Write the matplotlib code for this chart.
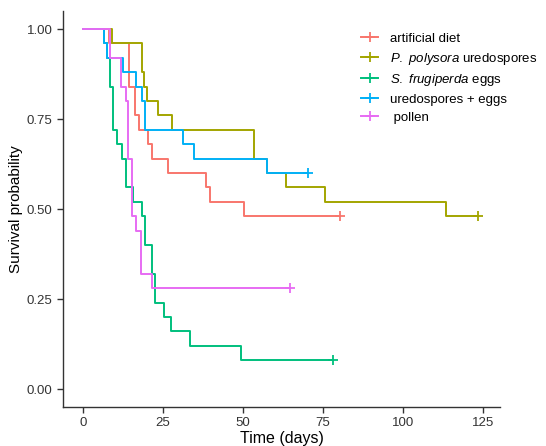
import matplotlib
matplotlib.use("Agg")
import matplotlib.pyplot as plt
from matplotlib.lines import Line2D

plt.rcParams['font.family'] = ['Liberation Sans', 'DejaVu Sans']
plt.rcParams['mathtext.fontset'] = 'custom'
plt.rcParams['mathtext.rm'] = 'Liberation Sans'
plt.rcParams['mathtext.it'] = 'Liberation Sans:italic'

# step times (days) and survival after each step; last value is censor time
diet_t = [0, 8.2, 14.5, 16.3, 17.6, 20.4, 21.7, 26.5, 38.4, 39.6, 50.4]
diet_s = [1.00, 0.96, 0.84, 0.76, 0.72, 0.68, 0.64, 0.60, 0.56, 0.52, 0.48]
diet_end = 80.3

poly_t = [0, 9.2, 18.3, 19.2, 19.9, 23.6, 27.7, 53.5, 57.5, 63.4, 75.6, 113.3]
poly_s = [1.00, 0.96, 0.88, 0.84, 0.80, 0.76, 0.72, 0.64, 0.60, 0.56, 0.52, 0.48]
poly_end = 123.2

eggs_t = [0, 6.6, 7.5, 8.5, 9.5, 10.7, 12.3, 13.5, 15.5, 18.4, 19.4, 21.7, 22.5,
          25.4, 27.5, 33.4, 49.5]
eggs_s = [1.00, 0.96, 0.92, 0.84, 0.72, 0.68, 0.64, 0.56, 0.52, 0.48, 0.40, 0.32,
          0.24, 0.20, 0.16, 0.12, 0.08]
eggs_end = 78.2

mix_t = [0, 6.6, 7.5, 12.6, 16.6, 18.3, 19.5, 31.3, 34.7, 57.5]
mix_s = [1.00, 0.96, 0.92, 0.88, 0.84, 0.80, 0.72, 0.68, 0.64, 0.60]
mix_end = 70.4

pollen_t = [0, 8.5, 11.9, 13.4, 14.2, 15.2, 16.5, 18.1, 21.7]
pollen_s = [1.00, 0.92, 0.84, 0.80, 0.64, 0.48, 0.44, 0.32, 0.28]
pollen_end = 64.5

labels = ["artificial diet",
          r"$\it{P.\ polysora}$ uredospores",
          r"$\it{S.\ frugiperda}$ eggs",
          "uredospores + eggs",
          " pollen"]
colors = ["#F8766D", "#A3A500", "#00BF7D", "#00B0F6", "#E76BF3"]

curves = [(diet_t, diet_s, diet_end), (poly_t, poly_s, poly_end),
          (eggs_t, eggs_s, eggs_end), (mix_t, mix_s, mix_end),
          (pollen_t, pollen_s, pollen_end)]

fig = plt.figure(figsize=(5.46, 4.46), dpi=100)
ax = fig.add_axes([0.1154, 0.0874, 0.8004, 0.8879])

for (t, s, end), c in zip(curves, colors):
    ax.step(t + [end], s + [s[-1]], where='post', color=c, lw=1.4)
    ax.plot([end], [s[-1]], marker='+', color=c, ms=6.5, mew=1.3)

ax.set_xlim(-6.2, 130.2)
ax.set_ylim(-0.05, 1.05)
ax.set_xticks([0, 25, 50, 75, 100, 125])
ax.set_yticks([0, 0.25, 0.5, 0.75, 1.0])
ax.set_yticklabels(["0.00", "0.25", "0.50", "0.75", "1.00"])
ax.spines['top'].set_visible(False)
ax.spines['right'].set_visible(False)
for sp in ['left', 'bottom']:
    ax.spines[sp].set_color('#333333')
    ax.spines[sp].set_linewidth(1.0)
ax.tick_params(colors='#333333', labelcolor='#333333', length=4, width=1.0,
               labelsize=9.5)
ax.set_xlabel("Time (days)", fontsize=11.5, color='black', labelpad=1)
ax.set_ylabel("Survival probability", fontsize=11, color='black', labelpad=3)

handles = [Line2D([], [], color=c, lw=1.4, marker='+', ms=6.5, mew=1.3) for c in colors]
ax.legend(handles, labels, loc='upper left', bbox_to_anchor=(0.655, 0.975),
          frameon=False, fontsize=9.5, handlelength=1.3, handletextpad=0.9,
          labelspacing=0.42)

fig.savefig("out.png", dpi=100)
